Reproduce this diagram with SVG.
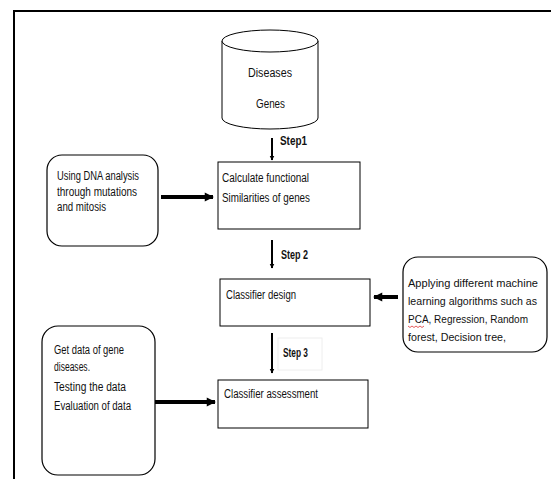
<svg xmlns="http://www.w3.org/2000/svg" width="551" height="479" viewBox="0 0 551 479">
<defs>
<style>
.box{fill:#fff;stroke:#000;stroke-width:1}
.rbox{fill:#fff;stroke:#000;stroke-width:1.2}
.t{font-family:"Liberation Sans",Arial,sans-serif;font-size:12px;fill:#111}
.r{font-size:11.2px}
.s{font-family:"Liberation Sans",Arial,sans-serif;font-size:12px;font-weight:bold;fill:#111}
.thin{stroke:#000;stroke-width:2;fill:none}
.thick{stroke:#000;stroke-width:4;fill:none}
</style>
<marker id="ah" viewBox="0 0 10 10" refX="9" refY="5" markerWidth="2.5" markerHeight="2.3" orient="auto" markerUnits="strokeWidth">
<path d="M0,0 L10,5 L0,10 z" fill="#000"/>
</marker>
<marker id="ahs" viewBox="0 0 10 10" refX="9" refY="5" markerWidth="2.5" markerHeight="3" orient="auto" markerUnits="strokeWidth">
<path d="M0,0 L10,5 L0,10 z" fill="#000"/>
</marker>
</defs>
<rect width="551" height="479" fill="#fff"/>
<path d="M14,479 V11 H551" fill="none" stroke="#000" stroke-width="2"/>

<g id="connectors">
<line class="thin" x1="272" y1="138" x2="272" y2="160" marker-end="url(#ahs)"/>
<line class="thick" x1="161" y1="197" x2="213" y2="197" marker-end="url(#ah)"/>
<line class="thin" x1="272" y1="240" x2="272" y2="268" marker-end="url(#ahs)"/>
<line class="thick" x1="398" y1="297" x2="374" y2="297" marker-end="url(#ah)"/>
<line class="thin" x1="272" y1="333" x2="272" y2="373" marker-end="url(#ahs)"/>
<line class="thick" x1="155" y1="402" x2="215" y2="402" marker-end="url(#ah)"/>
</g>

<g id="step-labels">
<text class="s" x="280" y="145" textLength="27" lengthAdjust="spacingAndGlyphs">Step1</text>
<text class="s" x="281" y="259" textLength="27" lengthAdjust="spacingAndGlyphs">Step 2</text>
<rect x="278" y="338" width="44" height="32" fill="#fff" stroke="#eee" stroke-width="1"/>
<text class="s" x="283" y="357" textLength="25" lengthAdjust="spacingAndGlyphs">Step 3</text>
</g>

<g id="db">
<path d="M222,41 V118 A48,11 0 0 0 318,118 V41" class="box"/>
<ellipse cx="270" cy="41" rx="48" ry="11" class="box"/>
<text class="t" x="248" y="77" textLength="44" lengthAdjust="spacingAndGlyphs">Diseases</text>
<text class="t" x="256" y="108" textLength="29" lengthAdjust="spacingAndGlyphs">Genes</text>
</g>

<g id="dna">
<rect class="rbox" x="47" y="155" width="111" height="91" rx="15"/>
<text class="t" x="57" y="180" textLength="82" lengthAdjust="spacingAndGlyphs">Using DNA analysis</text>
<text class="t" x="57" y="196" textLength="80" lengthAdjust="spacingAndGlyphs">through mutations</text>
<text class="t" x="57" y="211" textLength="49" lengthAdjust="spacingAndGlyphs">and mitosis</text>
</g>

<g id="calc">
<rect class="box" x="218" y="162" width="142" height="67"/>
<text class="t" x="222" y="182" textLength="87" lengthAdjust="spacingAndGlyphs">Calculate functional</text>
<text class="t" x="222" y="202" textLength="88" lengthAdjust="spacingAndGlyphs">Similarities of genes</text>
</g>

<g id="design">
<rect class="box" x="220" y="279" width="150" height="47"/>
<text class="t" x="226" y="299" textLength="70" lengthAdjust="spacingAndGlyphs">Classifier design</text>
</g>

<g id="ml">
<rect class="rbox" x="403" y="257" width="144" height="95" rx="15"/>
<text class="t r" x="408" y="287" textLength="130" lengthAdjust="spacingAndGlyphs">Applying different machine</text>
<text class="t r" x="408" y="305" textLength="129" lengthAdjust="spacingAndGlyphs">learning algorithms such as</text>
<text class="t r" x="408" y="323" textLength="120" lengthAdjust="spacingAndGlyphs">PCA, Regression, Random</text>
<path d="M408,326 l2,1.5 l2,-1.5 l2,1.5 l2,-1.5 l2,1.5 l2,-1.5 l2,1.5 l2,-1.5" fill="none" stroke="#d33" stroke-width="0.8"/>
<text class="t r" x="408" y="341" textLength="98" lengthAdjust="spacingAndGlyphs">forest, Decision tree,</text>
</g>

<g id="assess">
<rect class="box" x="218" y="380" width="150" height="48"/>
<text class="t" x="224" y="398" textLength="94" lengthAdjust="spacingAndGlyphs">Classifier assessment</text>
</g>

<g id="getdata">
<rect class="rbox" x="42" y="326" width="113" height="149" rx="16"/>
<text class="t" x="54" y="354" textLength="70" lengthAdjust="spacingAndGlyphs">Get data of gene</text>
<text class="t" x="54" y="371" textLength="36" lengthAdjust="spacingAndGlyphs">diseases.</text>
<text class="t" x="54" y="391" textLength="72" lengthAdjust="spacingAndGlyphs">Testing the data</text>
<text class="t" x="54" y="410" textLength="77" lengthAdjust="spacingAndGlyphs">Evaluation of data</text>
</g>
</svg>
